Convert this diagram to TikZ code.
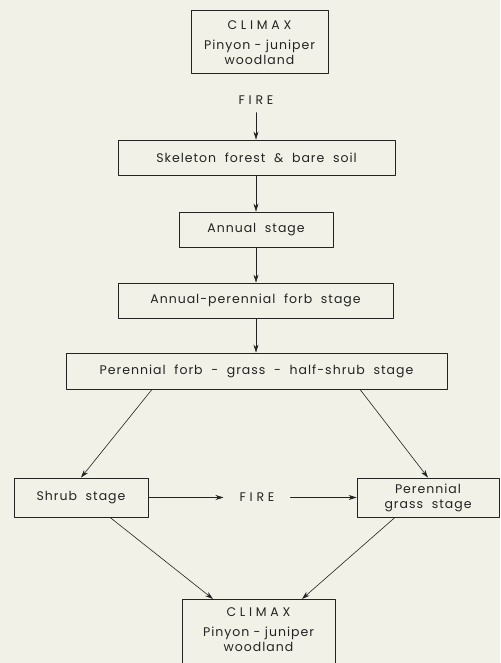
\documentclass[tikz,border=0pt]{standalone}
\usepackage{fontspec}
\setmainfont[LetterSpace=8]{Poppins}
\usetikzlibrary{arrows.meta}
\definecolor{paper}{RGB}{242,241,232}
\definecolor{ink}{RGB}{35,35,33}
\newcommand\wide[1]{{\addfontfeature{LetterSpace=30}#1}}
\newcommand\climaxtext{\wide{CLIMAX}\\[5pt]Pinyon - juniper\\woodland}
\begin{document}
\begin{tikzpicture}[x=1pt,y=-1pt,font=\fontsize{12.5}{15}\selectfont,line join=round,line cap=round,
  >={Stealth[length=8pt,width=5pt]},
  stage/.style={draw=ink,line width=0.8pt,inner sep=0pt,text=ink,align=center},
  fire/.style={text=ink,inner xsep=16pt,inner ysep=4pt},
  link/.style={->,draw=ink,line width=0.6pt}]
\fill[paper] (0,0) rectangle (500,663);
\clip (0,0) rectangle (500,663);
% main chain
\node[stage,minimum width=137pt,minimum height=63pt] (climaxa) at (259.5,41.5) {};
\node[text=ink,align=center,anchor=north] (climaxatext) at ([yshift=-7.5pt]climaxa.north) {\climaxtext};
\node[fire] (firea) at (256,100) {\wide{FIRE}};
\node[stage,minimum width=277pt,minimum height=35pt] (skel) at (256.5,157.5) {Skeleton\ \ forest\ \ \& \ bare\ \ soil};
\node[stage,minimum width=154pt,minimum height=35pt] (annual) at (256,229.5) {Annual\ \ stage};
\node[stage,minimum width=275pt,minimum height=35pt] (annper) at (255.5,300.5) {Annual-perennial\ \ forb\ \ stage};
\node[stage,minimum width=381pt,minimum height=36pt] (perforb) at (256.5,371) {Perennial\ \ forb\ \ -\ \ grass\ \ -\ \ half-shrub\ \ stage};
% lower part
\node[stage,minimum width=134pt,minimum height=39pt] (shrub) at (81,497.5) {Shrub\ \ stage};
\node[fire] (fireb) at (257,497.5) {\wide{FIRE}};
\node[stage,minimum width=142pt,minimum height=39pt] (grass) at (428,497.5) {Perennial\\grass\ \ stage};
\node[stage,minimum width=153pt,minimum height=70pt,anchor=north] (climaxb) at (258.5,599) {};
\node[text=ink,align=center,anchor=north] (climaxbtext) at ([yshift=-5pt]climaxb.north) {\climaxtext};
\draw[link] ([yshift=-4pt]firea.south) -- (firea.south |- skel.north);
\draw[link] (skel.south -| annual) -- (annual.north);
\draw[link] (annual.south) -- (annual.south |- annper.north);
\draw[link] (annual.south |- annper.south) -- (annual.south |- perforb.north);
\draw[link] ([xshift=-104.5pt]perforb.south) -- (shrub.north);
\draw[link] ([xshift=103.5pt]perforb.south) -- (grass.north);
\draw[link] (shrub.east) -- (fireb.west);
\draw[link] (fireb.east) -- (grass.west);
\draw[link] ([xshift=29pt]shrub.south) -- ([xshift=-45.5pt]climaxb.north);
\draw[link] ([xshift=-33pt]grass.south) -- ([xshift=43.5pt]climaxb.north);
\end{tikzpicture}
\end{document}
